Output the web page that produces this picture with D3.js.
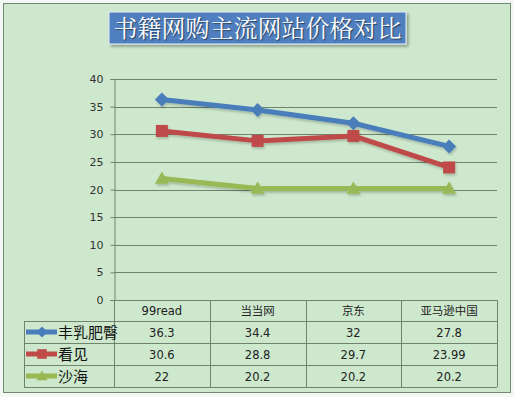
<!DOCTYPE html>
<html><head><meta charset="utf-8">
<script src="https://cdn.jsdelivr.net/npm/d3@7"></script>
<style>
html,body{margin:0;padding:0;background:#fff;}
svg{display:block;}
</style></head><body>
<script>
const title = "书籍网购主流网站价格对比";
const categories = ["99read", "当当网", "京东", "亚马逊中国"];
const seriesNames = ["丰乳肥臀", "看见", "沙海"];
const valuesFeng = [36.3, 34.4, 32, 27.8];
const valuesKan = [30.6, 28.8, 29.7, 23.99];
const valuesSha = [22, 20.2, 20.2, 20.2];
const labelsFeng = ["36.3", "34.4", "32", "27.8"];
const labelsKan = ["30.6", "28.8", "29.7", "23.99"];
const labelsSha = ["22", "20.2", "20.2", "20.2"];
const yTicks = [0, 5, 10, 15, 20, 25, 30, 35, 40];

const series = [
  {name: seriesNames[0], values: valuesFeng, labels: labelsFeng, color: "#4a7ebb", marker: "diamond"},
  {name: seriesNames[1], values: valuesKan, labels: labelsKan, color: "#be4b48", marker: "square"},
  {name: seriesNames[2], values: valuesSha, labels: labelsSha, color: "#98b954", marker: "triangle"}
];

const W = 514, H = 397;
const svg = d3.select("body").append("svg").attr("width", W).attr("height", H);
const defs = svg.append("defs");
const f = defs.append("filter").attr("id","sh").attr("x","-20%").attr("y","-20%").attr("width","150%").attr("height","160%");
f.append("feDropShadow").attr("dx",2).attr("dy",2).attr("stdDeviation",1.5).attr("flood-color","#000").attr("flood-opacity",0.35);
const f2 = defs.append("filter").attr("id","lsh").attr("x","-10%").attr("y","-20%").attr("width","120%").attr("height","150%");
f2.append("feDropShadow").attr("dx",1).attr("dy",2).attr("stdDeviation",1.2).attr("flood-color","#000").attr("flood-opacity",0.2);

// background
svg.append("rect").attr("x",0).attr("y",0).attr("width",W).attr("height",H).attr("fill","#f4f8f4");
svg.append("rect").attr("x",3.5).attr("y",3.5).attr("width",507).attr("height",389)
  .attr("fill","#cde8cd").attr("stroke","#6f8a6f").attr("stroke-width",1);

// title
svg.append("rect").attr("x",109).attr("y",12).attr("width",297).attr("height",32)
  .attr("fill","#4f7fbe").attr("stroke","#e8f0f8").attr("stroke-width",1).attr("filter","url(#sh)");
svg.append("text").attr("x",257.5).attr("y",37).attr("text-anchor","middle")
  .attr("font-family","'Noto Serif CJK SC','Noto Sans CJK SC',serif").attr("font-size",24)
  .attr("fill","#fff").style("text-shadow","1px 1px 1px rgba(0,0,0,0.5)").text(title);

// scales
const x = d3.scaleBand().domain(categories).range([114, 497]);
const y = d3.scaleLinear().domain([0, 40]).range([300, 79]);

// gridlines
svg.append("g").selectAll("line").data(yTicks.filter(d => d > 0)).join("line")
  .attr("x1",114).attr("x2",497).attr("y1",d => Math.round(y(d))+0.5).attr("y2",d => Math.round(y(d))+0.5)
  .attr("stroke","#6f836f").attr("stroke-width",1);

// y axis
const yAxis = d3.axisLeft(y).tickValues(yTicks).tickSize(4).tickPadding(7);
const gy = svg.append("g").attr("transform","translate(114.5,0)").call(yAxis);
gy.select(".domain").attr("stroke","#6f836f");
gy.selectAll(".tick line").attr("stroke","#6f836f");
gy.selectAll(".tick text").attr("font-family","'DejaVu Sans',Verdana,sans-serif").attr("font-size",11).attr("fill","#333");

// table
const rowY = [300, 321, 343, 365, 387];
const tbl = svg.append("g").attr("stroke","#6f836f").attr("stroke-width",1);
tbl.append("line").attr("x1",114).attr("x2",497).attr("y1",300.5).attr("y2",300.5);
[321, 343, 365, 387].forEach(yy => tbl.append("line").attr("x1",24).attr("x2",497).attr("y1",yy+0.5).attr("y2",yy+0.5));
tbl.append("line").attr("x1",24.5).attr("x2",24.5).attr("y1",321).attr("y2",387);
const colEdges = [114].concat(categories.map(c => x(c) + x.bandwidth()));
colEdges.forEach(cx => tbl.append("line").attr("x1",Math.round(cx)+0.5).attr("x2",Math.round(cx)+0.5).attr("y1",300).attr("y2",387));

const fontLat = "'DejaVu Sans',Verdana,sans-serif";
svg.append("g").selectAll("text").data(categories).join("text")
  .attr("x",d => x(d) + x.bandwidth()/2).attr("y",315).attr("text-anchor","middle")
  .attr("font-family",fontLat + ",'Noto Sans CJK SC'").attr("font-size",11.5).attr("fill","#222").text(d => d);

series.forEach((s, i) => {
  const ry = (rowY[i+1] + rowY[i+2]) / 2;
  const g = svg.append("g");
  g.selectAll("text").data(s.labels).join("text")
    .attr("x",(d,j) => x(categories[j]) + x.bandwidth()/2).attr("y",ry + 4.5).attr("text-anchor","middle")
    .attr("font-family",fontLat).attr("font-size",11.5).attr("fill","#222").text(d => d);
  // legend key
  g.append("line").attr("x1",26).attr("x2",57).attr("y1",ry).attr("y2",ry)
    .attr("stroke",s.color).attr("stroke-width",5);
  drawMarker(g, s.marker, 42, ry, s.color, 0.8);
  g.append("text").attr("x",58).attr("y",ry+5.5).attr("font-family","'Noto Sans CJK SC',sans-serif")
    .attr("font-size",15).attr("fill","#111").text(s.name);
});

function drawMarker(g, type, cx, cy, color, sc) {
  sc = sc || 1;
  if (type === "diamond") {
    const r = 7 * sc;
    g.append("path").attr("d",`M${cx},${cy-r}L${cx+r},${cy}L${cx},${cy+r}L${cx-r},${cy}Z`).attr("fill",color);
  } else if (type === "square") {
    const r = 6 * sc;
    g.append("rect").attr("x",cx-r).attr("y",cy-r).attr("width",2*r).attr("height",2*r).attr("fill",color);
  } else {
    const r = 7 * sc;
    g.append("path").attr("d",`M${cx},${cy-r}L${cx+r},${cy+r*0.75}L${cx-r},${cy+r*0.75}Z`).attr("fill",color);
  }
}

// lines
const line = d3.line().x((d,j) => x(categories[j]) + x.bandwidth()/2).y(d => y(d));
series.forEach(s => {
  const g = svg.append("g").attr("filter","url(#lsh)");
  g.append("path").attr("d", line(s.values)).attr("fill","none").attr("stroke",s.color)
    .attr("stroke-width",5).attr("stroke-linejoin","round");
  s.values.forEach((v, j) => drawMarker(g, s.marker, x(categories[j]) + x.bandwidth()/2, y(v), s.color, 1));
});
</script>
</body></html>
